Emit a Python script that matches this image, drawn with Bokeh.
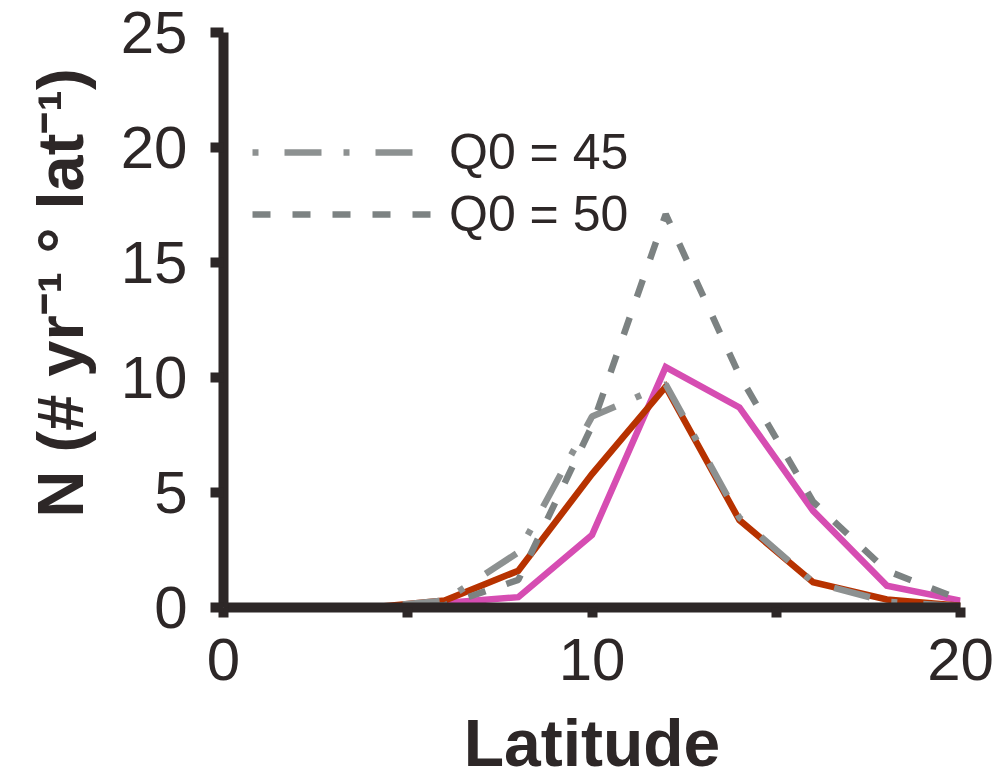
from bokeh.plotting import figure
from bokeh.models import Range1d, FixedTicker, Legend, LegendItem, Title
from bokeh.embed import file_html
from bokeh.resources import INLINE

# Storm counts per year per degree latitude, sampled every 2 degrees
latitude = [4, 6, 8, 10, 12, 14, 16, 18, 20]
n_magenta = [0.0, 0.2, 0.45, 3.15, 10.45, 8.7, 4.2, 0.95, 0.3]
n_red = [0.0, 0.3, 1.6, 5.8, 9.6, 3.8, 1.1, 0.35, 0.08]
n_q0_45 = [0.0, 0.3, 2.4, 8.3, 9.7, 3.9, 1.1, 0.25, 0.05]
n_q0_50 = [0.0, 0.1, 1.2, 7.9, 17.1, 10.1, 4.6, 1.6, 0.35]

x_ticks = [0, 10, 20]
x_minor_ticks = [5, 15]
y_ticks = [0, 5, 10, 15, 20, 25]
legend_labels = ["Q0 = 45", "Q0 = 50"]
x_title = "Latitude"
y_title = "N (# yr\u207b\u00b9 \u00b0 lat\u207b\u00b9)"

INK = "#2d2727"
MAGENTA = "#d64db2"
RED = "#b73200"
GREY_45 = "#8d9191"
GREY_50 = "#7c8282"
FONT = "Liberation Sans"
NAN = float("nan")

p = figure(width=1005, height=783, output_backend="svg", toolbar_location=None,
           x_range=Range1d(0, 20), y_range=Range1d(0, 25),
           min_border_left=221, min_border_right=45,
           min_border_top=32, min_border_bottom=176)
p.outline_line_color = None
p.grid.grid_line_color = None
p.background_fill_color = "white"
p.border_fill_color = "white"

LW = 6.5
DASH_45 = "6 26 37 22"
DASH_50 = "18 22"
p.line(latitude, n_magenta, line_color=MAGENTA, line_width=LW, line_join="miter")
p.line(latitude, n_red, line_color=RED, line_width=LW, line_join="miter")
r_45 = p.line(latitude, n_q0_45, line_color=GREY_45, line_width=LW,
              line_dash=DASH_45, line_cap="butt")
p.line(latitude, n_q0_50, line_color=GREY_50, line_width=LW,
       line_dash=DASH_50, line_dash_offset=21, line_cap="butt")

# legend swatch for the dashed series, so its pattern starts at the swatch edge
key_50 = p.line([NAN], [NAN], line_color=GREY_50, line_width=LW,
                line_dash=DASH_50, line_cap="butt")

# axes
p.xaxis.ticker = FixedTicker(ticks=x_ticks, minor_ticks=x_minor_ticks)
p.yaxis.ticker = FixedTicker(ticks=y_ticks)
for ax in (p.xaxis, p.yaxis):
    ax.axis_line_width = 10
    ax.axis_line_color = INK
    ax.major_tick_line_width = 10
    ax.major_tick_line_color = INK
    ax.major_tick_in = 0
    ax.major_label_text_font = FONT
    ax.major_label_text_font_size = "60px"
    ax.major_label_text_color = INK
p.xaxis.major_tick_out = 10
p.xaxis.minor_tick_out = 10
p.xaxis.minor_tick_in = 0
p.xaxis.minor_tick_line_width = 10
p.xaxis.minor_tick_line_color = INK
p.xaxis.major_label_standoff = 21
p.xaxis.major_label_text_line_height = 0.9
p.yaxis.major_tick_out = 13
p.yaxis.major_label_standoff = 23
p.yaxis.minor_tick_line_color = None

p.xaxis.axis_label = x_title
p.xaxis.axis_label_text_font = FONT
p.xaxis.axis_label_text_font_size = "66px"
p.xaxis.axis_label_text_font_style = "bold"
p.xaxis.axis_label_text_color = INK
p.xaxis.axis_label_text_line_height = 0.9
p.xaxis.axis_label_standoff = 23

# rotated y title in its own side panel, started a little above the frame bottom
p.add_layout(Title(text=y_title, align="left", offset=90, standoff=42,
                   text_font=FONT, text_font_size="65px", text_font_style="bold",
                   text_color=INK), "left")

# legend
legend = Legend(items=[LegendItem(label=legend_labels[0], renderers=[r_45]),
                       LegendItem(label=legend_labels[1], renderers=[key_50])],
                location=(29, 362), orientation="vertical",
                glyph_width=180, glyph_height=62, label_height=62,
                label_standoff=17, spacing=0, padding=0, margin=0,
                border_line_color=None, background_fill_alpha=0,
                label_text_font=FONT, label_text_font_size="50px",
                label_text_color=INK)
p.add_layout(legend)

open("out.html", "w").write(file_html(p, INLINE))
